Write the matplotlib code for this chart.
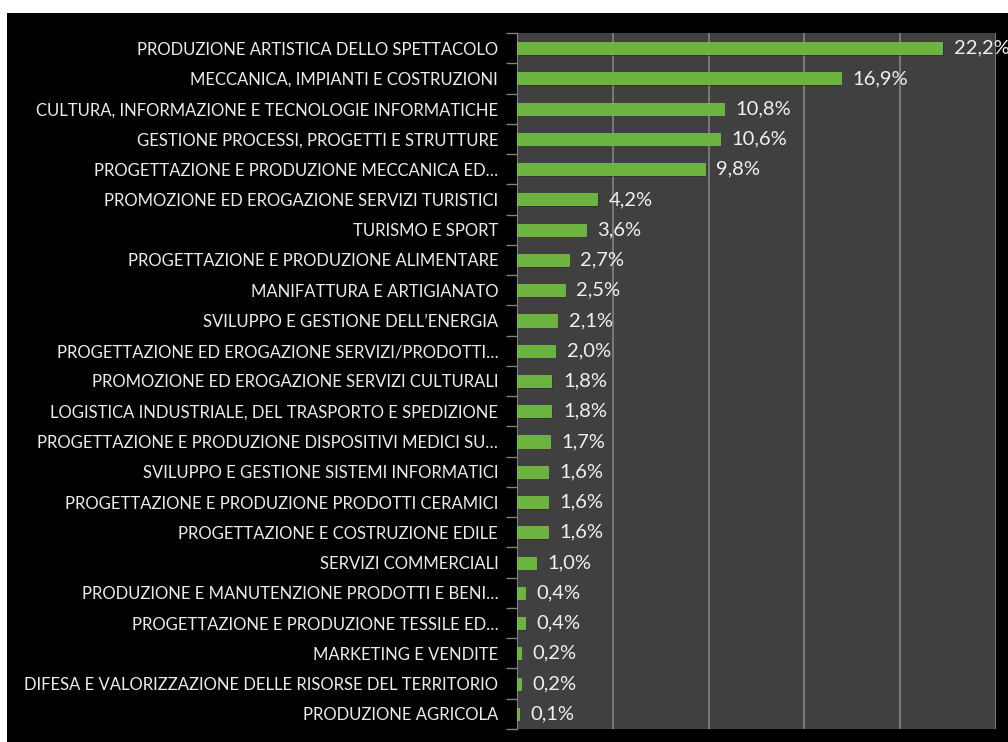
import numpy as np
import matplotlib.pyplot as plt
from matplotlib.patches import Rectangle

# categories, top to bottom
categories = [
    "PRODUZIONE ARTISTICA DELLO SPETTACOLO",
    "MECCANICA, IMPIANTI E COSTRUZIONI",
    "CULTURA, INFORMAZIONE E TECNOLOGIE INFORMATICHE",
    "GESTIONE PROCESSI, PROGETTI E STRUTTURE",
    "PROGETTAZIONE E PRODUZIONE MECCANICA ED\u2026",
    "PROMOZIONE ED EROGAZIONE SERVIZI TURISTICI",
    "TURISMO E SPORT",
    "PROGETTAZIONE E PRODUZIONE ALIMENTARE",
    "MANIFATTURA E ARTIGIANATO",
    "SVILUPPO E GESTIONE DELL\u2019ENERGIA",
    "PROGETTAZIONE ED EROGAZIONE SERVIZI/PRODOTTI\u2026",
    "PROMOZIONE ED EROGAZIONE SERVIZI CULTURALI",
    "LOGISTICA INDUSTRIALE, DEL TRASPORTO E SPEDIZIONE",
    "PROGETTAZIONE E PRODUZIONE DISPOSITIVI MEDICI SU\u2026",
    "SVILUPPO E GESTIONE SISTEMI INFORMATICI",
    "PROGETTAZIONE E PRODUZIONE PRODOTTI CERAMICI",
    "PROGETTAZIONE E COSTRUZIONE EDILE",
    "SERVIZI COMMERCIALI",
    "PRODUZIONE E MANUTENZIONE PRODOTTI E BENI\u2026",
    "PROGETTAZIONE E PRODUZIONE TESSILE ED\u2026",
    "MARKETING E VENDITE",
    "DIFESA E VALORIZZAZIONE DELLE RISORSE DEL TERRITORIO",
    "PRODUZIONE AGRICOLA",
]
values = [22.2, 16.9, 10.8, 10.6, 9.8, 4.2, 3.6, 2.7, 2.5, 2.1, 2.0, 1.8, 1.8,
          1.7, 1.6, 1.6, 1.6, 1.0, 0.4, 0.4, 0.2, 0.2, 0.1]
xticks = [0, 5, 10, 15, 20, 25]

plt.rcParams['font.family'] = ['Lato', 'DejaVu Sans']

fig = plt.figure(figsize=(10.08, 7.42), dpi=100, facecolor='white')
# black panel behind the chart
fig.patches.append(Rectangle((7 / 1008, 0), 1, 1 - 13 / 742, transform=fig.transFigure,
                             facecolor='black', edgecolor='none', zorder=-10))

ax = fig.add_axes([517 / 1008, 1 - 729 / 742, (996 - 517) / 1008, (729 - 33) / 742])
ax.set_facecolor('#404040')

n = len(categories)
y = np.arange(n)
# soft shadow then bar
ax.barh(y + 0.05, values, height=0.4, left=0.06, color='#2a2a2a', alpha=0.5, zorder=2)
ax.barh(y, values, height=0.4, color='#6db33f', edgecolor='#78bd4a', linewidth=0.6, zorder=3)

for yi, v in zip(y, values):
    ax.text(v + 0.6, yi, f"{v:.1f}%".replace('.', ','), va='center', ha='left',
            color='#f0f0f0', fontsize=14.5, clip_on=False, zorder=4)

ax.set_xlim(0, 25)
ax.set_ylim(n - 0.5, -0.5)
ax.set_xticks(xticks)
ax.xaxis.grid(True, color='#8a8a8a', linewidth=1.1)
ax.set_axisbelow(True)
ax.tick_params(axis='x', length=0, labelbottom=False)

ax.set_yticks(y)
ax.set_yticklabels(categories, color='#ececec', fontsize=12)
ax.tick_params(axis='y', which='major', length=0, pad=13.5)
ax.set_yticks(np.arange(-0.5, n, 1), minor=True)
ax.tick_params(axis='y', which='minor', length=8, color='#808080', width=1)

for s in ['top', 'right', 'bottom']:
    ax.spines[s].set_visible(False)
ax.spines['left'].set_color('#808080')

fig.savefig('out.png', dpi=100, facecolor=fig.get_facecolor())
